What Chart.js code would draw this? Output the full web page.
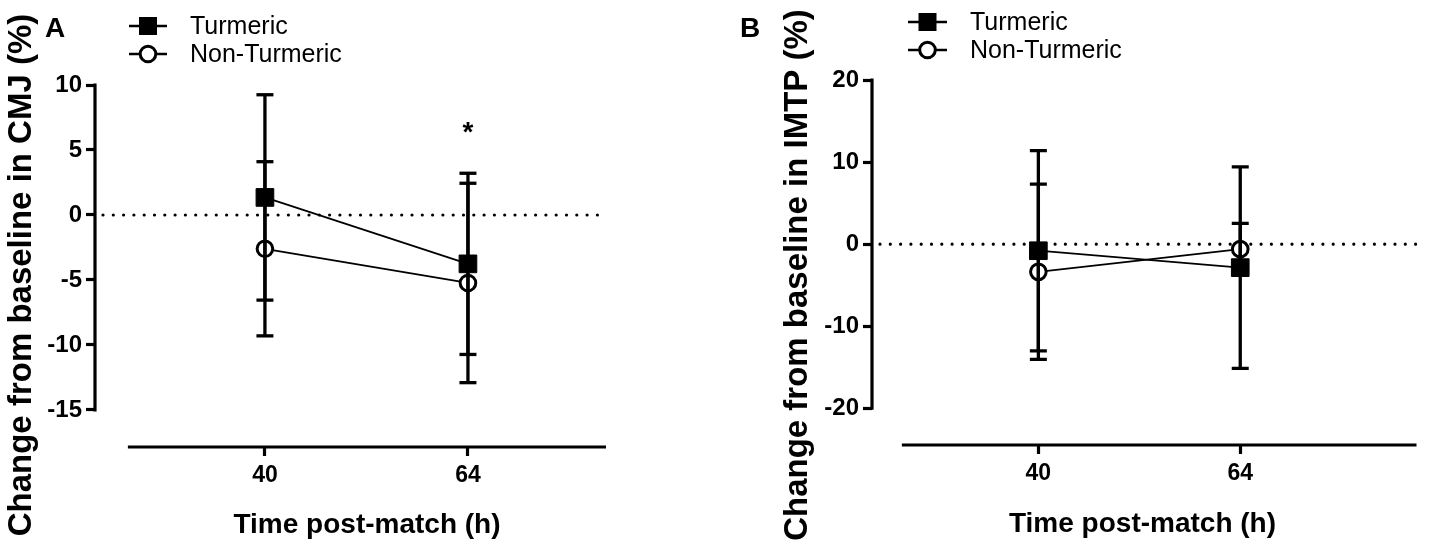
<!DOCTYPE html>
<html lang="en">
<head>
<meta charset="UTF-8">
<title>CMJ and IMTP change from baseline</title>
<script src="https://cdn.jsdelivr.net/npm/chart.js"></script>
<style>
  body { margin: 0; background: #fff; }
  .wrap { position: relative; width: 1430px; height: 550px; }
  canvas { position: absolute; top: 0; }
  #chartA { left: 0; }
  #chartB { left: 715px; }
</style>
</head>
<body>
<div class="wrap">
  <canvas id="chartA" width="715" height="550"></canvas>
  <canvas id="chartB" width="715" height="550"></canvas>
</div>

<script>
// time points (h post-match)
const timeLabels = ['40', '64'];
const groupNames = ['Turmeric', 'Non-Turmeric'];

// A: CMJ, % change from baseline (mean, SD)
const cmjTurmericMean = [1.35, -3.76];
const cmjTurmericSd = [7.9, 6.97];
const cmjNonTurmericMean = [-2.6, -5.23];
const cmjNonTurmericSd = [6.7, 7.67];
const cmjTicks = [-15, -10, -5, 0, 5, 10];

// B: IMTP, % change from baseline (mean, SD)
const imtpTurmericMean = [-0.8, -2.86];
const imtpTurmericSd = [12.2, 12.28];
const imtpNonTurmericMean = [-3.37, -0.61];
const imtpNonTurmericSd = [10.68, 3.13];
const imtpTicks = [-20, -10, 0, 10, 20];

const FONT = "'Liberation Sans', Arial, Helvetica, sans-serif";

function meanSet(label, means, style) {
    const square = style === 'rect';
    return {
        label: label,
        data: means.map((m, i) => ({x: i, y: m})),
        borderColor: '#000',
        borderWidth: 1.8,
        tension: 0,
        pointStyle: style,
        pointRadius: square ? 12.5 : 7.8,
        pointBorderWidth: square ? 1 : 3,
        pointBackgroundColor: square ? '#000' : '#fff',
        pointBorderColor: '#000',
        order: 2
    };
}

// one little line dataset per error bar, caps drawn as 'line' points
function errorSets(means, sds) {
    return means.map((m, i) => ({
        label: '_err',
        data: [{x: i, y: m - sds[i]}, {x: i, y: m + sds[i]}],
        borderColor: '#000',
        borderWidth: 3.3,
        pointStyle: 'line',
        pointRadius: 8.5,
        pointBorderWidth: 3.3,
        pointBorderColor: '#000',
        order: 1
    }));
}

const prismDecor = {
    id: 'prismDecor',
    beforeDatasetsDraw(chart, args, o) {
        const ctx = chart.ctx, area = chart.chartArea, y = chart.scales.y;
        const y0 = y.getPixelForValue(0);
        ctx.save();
        ctx.strokeStyle = '#000';
        ctx.lineWidth = 3.2;
        ctx.lineCap = 'round';
        ctx.setLineDash([0, 10.3]);
        ctx.beginPath();
        ctx.moveTo(area.left + 8, y0);
        ctx.lineTo(area.right, y0);
        ctx.stroke();
        ctx.restore();
    },
    afterDraw(chart, args, o) {
        const ctx = chart.ctx, area = chart.chartArea;
        const x = chart.scales.x, y = chart.scales.y;
        ctx.save();
        ctx.strokeStyle = '#000';
        ctx.fillStyle = '#000';
        ctx.lineWidth = 3.2;

        // y axis runs only between the outer ticks
        const yTop = y.getPixelForValue(o.yTicks[o.yTicks.length - 1]);
        const yBot = y.getPixelForValue(o.yTicks[0]);
        ctx.beginPath();
        ctx.moveTo(area.left, yTop - 1.5);
        ctx.lineTo(area.left, yBot + 1.5);
        ctx.stroke();

        // detached x axis
        ctx.beginPath();
        ctx.moveTo(x.getPixelForValue(o.xStart), area.bottom);
        ctx.lineTo(area.right, area.bottom);
        ctx.stroke();

        // legend
        const sets = chart.data.datasets.filter(d => d.label !== '_err');
        sets.forEach((d, i) => {
            const ry = o.legend.rows[i];
            ctx.lineWidth = 2.5;
            ctx.beginPath();
            ctx.moveTo(o.legend.x1, ry);
            ctx.lineTo(o.legend.x2, ry);
            ctx.stroke();
            const cx = (o.legend.x1 + o.legend.x2) / 2;
            if (d.pointStyle === 'rect') {
                ctx.fillRect(cx - 9, ry - 9, 18, 18);
            } else {
                ctx.beginPath();
                ctx.arc(cx, ry, 7.8, 0, Math.PI * 2);
                ctx.fillStyle = '#fff';
                ctx.fill();
                ctx.lineWidth = 3;
                ctx.stroke();
                ctx.fillStyle = '#000';
            }
            ctx.font = '25px ' + FONT;
            ctx.textAlign = 'left';
            ctx.textBaseline = 'alphabetic';
            ctx.fillText(d.label, o.legend.textX, ry + 7.5);
        });

        // panel letter
        ctx.font = 'bold 28px ' + FONT;
        ctx.textAlign = 'left';
        ctx.fillText(o.letter.text, o.letter.x, o.letter.y);

        // significance mark
        if (o.star) {
            ctx.font = 'bold 28px ' + FONT;
            ctx.textAlign = 'center';
            ctx.fillText('*', x.getPixelForValue(o.star.x), y.getPixelForValue(o.star.y) + 16);
        }

        // axis titles
        ctx.font = 'bold 28px ' + FONT;
        ctx.textAlign = 'center';
        ctx.fillText(o.xTitle.text, o.xTitle.x, o.xTitle.y);

        ctx.translate(o.yTitle.x, o.yTitle.y);
        ctx.rotate(-Math.PI / 2);
        ctx.font = 'bold 33px ' + FONT;
        ctx.fillText(o.yTitle.text, 0, 0);
        ctx.restore();
    }
};

function makeChart(id, cfg) {
    const ctx = document.getElementById(id).getContext('2d');
    return new Chart(ctx, {
        type: 'line',
        data: {
            datasets: [
                meanSet(groupNames[0], cfg.turmMean, 'rect'),
                meanSet(groupNames[1], cfg.nonMean, 'circle'),
                ...errorSets(cfg.turmMean, cfg.turmSd),
                ...errorSets(cfg.nonMean, cfg.nonSd)
            ]
        },
        options: {
            responsive: false,
            animation: false,
            events: [],
            layout: {padding: cfg.padding},
            scales: {
                x: {
                    type: 'linear',
                    min: cfg.xMin,
                    max: cfg.xMax,
                    afterBuildTicks: s => { s.ticks = timeLabels.map((t, i) => ({value: i})); },
                    afterFit: s => { s.height = cfg.xHeight; },
                    border: {display: false},
                    grid: {drawOnChartArea: false, tickLength: 9, tickWidth: 3.2, tickColor: '#000'},
                    ticks: {
                        color: '#000',
                        padding: 6,
                        maxRotation: 0,
                        font: {family: FONT, size: 23, weight: 'bold'},
                        callback: v => timeLabels[v]
                    }
                },
                y: {
                    type: 'linear',
                    min: cfg.yMin,
                    max: cfg.yMax,
                    afterBuildTicks: s => { s.ticks = cfg.yTicks.map(v => ({value: v})); },
                    afterFit: s => { s.width = cfg.yWidth; },
                    border: {display: false},
                    grid: {drawOnChartArea: false, tickLength: 9, tickWidth: 3.2, tickColor: '#000'},
                    ticks: {
                        color: '#000',
                        padding: 4,
                        font: {family: FONT, size: 24, weight: 'bold'}
                    }
                }
            },
            plugins: {
                legend: {display: false},
                tooltip: {enabled: false},
                prismDecor: cfg.decor
            }
        },
        plugins: [prismDecor]
    });
}

makeChart('chartA', {
    turmMean: cmjTurmericMean, turmSd: cmjTurmericSd,
    nonMean: cmjNonTurmericMean, nonSd: cmjNonTurmericSd,
    yTicks: cmjTicks, yMin: -17.85, yMax: 10,
    xMin: -0.837, xMax: 1.68,
    yWidth: 95, xHeight: 103,
    padding: {left: 0, top: 85, right: 109, bottom: 0},
    decor: {
        yTicks: cmjTicks,
        xStart: -0.675,
        legend: {x1: 129, x2: 167, textX: 190, rows: [26, 54]},
        letter: {text: 'A', x: 45, y: 37},
        star: {x: 1, y: 6.9},
        xTitle: {text: 'Time post-match (h)', x: 367, y: 533},
        yTitle: {text: 'Change from baseline in CMJ (%)', x: 31, y: 275}
    }
});

makeChart('chartB', {
    turmMean: imtpTurmericMean, turmSd: imtpTurmericSd,
    nonMean: imtpNonTurmericMean, nonSd: imtpNonTurmericSd,
    yTicks: imtpTicks, yMin: -24.47, yMax: 20,
    xMin: -0.824, xMax: 1.873,
    yWidth: 157, xHeight: 105,
    padding: {left: 0, top: 80, right: 8, bottom: 0},
    decor: {
        yTicks: imtpTicks,
        xStart: -0.676,
        legend: {x1: 193, x2: 232, textX: 255, rows: [22, 50]},
        letter: {text: 'B', x: 25, y: 37},
        star: null,
        xTitle: {text: 'Time post-match (h)', x: 427.5, y: 532},
        yTitle: {text: 'Change from baseline in IMTP (%)', x: 92, y: 275}
    }
});
</script>
</body>
</html>
